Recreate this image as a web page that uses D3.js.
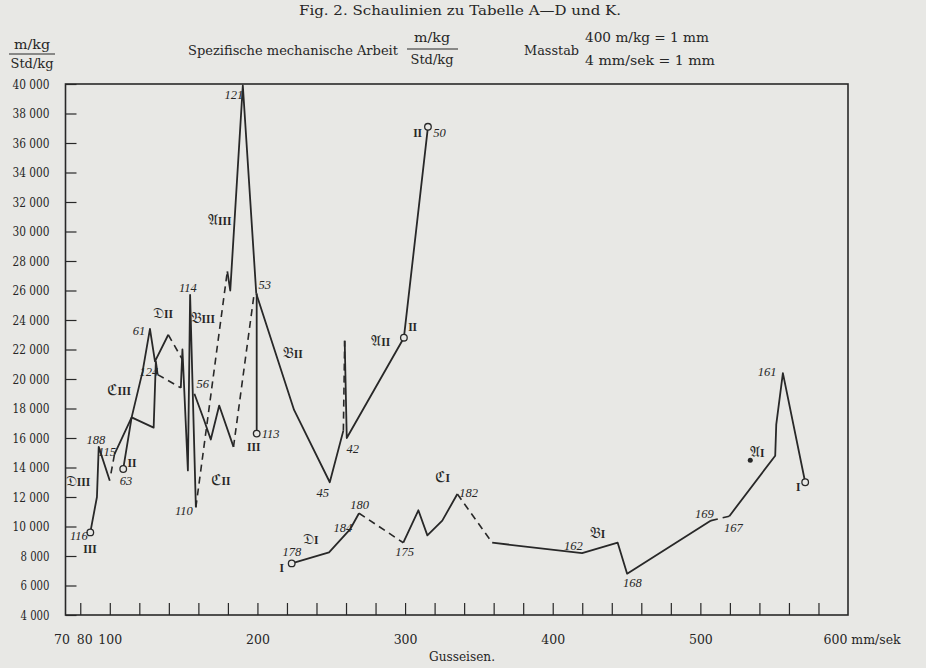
<!doctype html>
<html>
<head>
<meta charset="utf-8">
<title>Fig. 2. Schaulinien zu Tabelle A-D und K.</title>
<style>
  body { margin: 0; background: #e8e8e5; }
  svg { display: block; }
  text { font-family: "DejaVu Serif", "Liberation Serif", serif; fill: #262626; }
  .num { font-family: "Liberation Serif", serif; font-style: italic; font-size: 12.5px; }
  .rom { font-family: "Liberation Serif", serif; font-size: 11.5px; font-weight: bold; }
  .frak { font-family: "DejaVu Serif", "DejaVu Sans", serif; font-size: 15px; }
</style>
</head>
<body>
<div id="here"></div>
<script src="https://d3js.org/d3.v7.min.js"></script>
<script>
var w = 926, h = 668, ink = "#282828", bg = "#e8e8e5";

// achsen
var yTicks = [4000, 6000, 8000, 10000, 12000, 14000, 16000, 18000, 20000, 22000,
              24000, 26000, 28000, 30000, 32000, 34000, 36000, 38000, 40000];
var xTicks = [80, 100, 120, 140, 160, 180, 200, 220, 240, 260, 280, 300, 320, 340,
              360, 380, 400, 420, 440, 460, 480, 500, 520, 540, 560, 580];
var xLabels = [70, 80, 100, 200, 300, 400, 500, 600];

// schaulinien [mm/sek, m/kg / Std/kg]
var dIII  = [[86.8, 9600], [91.3, 12000], [92.5, 15400], [100, 13100]];
var cIIIa = [[100.8, 13600], [103.2, 14900]];
var cIII  = [[103.2, 14900], [114.8, 17400], [122.2, 20500], [127.2, 23400], [130.6, 21200], [139.6, 23000]];
var cIIIb = [[139.6, 23000], [149.3, 21300]];
var dII   = [[109.1, 13900], [114.8, 17400], [129.7, 16700], [131.2, 21200], [132.4, 20300]];
var dIIa  = [[132.4, 20300], [148.1, 19400]];
var dIIb  = [[148.1, 19400], [149.2, 22000], [152.9, 13800], [154.4, 25700], [158.3, 11300]];
var bIII  = [[157.3, 19000], [163.9, 17200], [168.4, 15900], [174.1, 18200], [183.8, 15400]];
var bIIIa = [[183.8, 15400], [197.8, 25800]];
var bIIIb = [[199.5, 16300], [199.5, 25800]];
var cIIa  = [[158.3, 11300], [179.6, 27300]];
var aIII  = [[179.6, 27300], [181.6, 26000], [190.1, 39900], [199.2, 25800]];
var bII   = [[199.2, 25800], [224.8, 17900], [249, 13000], [258.2, 16500]];
var bIIa  = [[258.2, 16500], [259.1, 22600]];
var aII   = [[259.1, 22600], [260.5, 16000], [299.2, 22800], [315.5, 37100]];
var dI    = [[223.2, 7500], [248.5, 8250], [262.7, 9800], [268.8, 10900]];
var cIa   = [[268.8, 10900], [298.8, 8900]];
var cI    = [[298.8, 8900], [309, 11100], [315.1, 9400], [325.2, 10400], [335.4, 12200]];
var cIb   = [[335.4, 12200], [359, 8900]];
var bI    = [[359, 8900], [419.9, 8200], [444, 8900], [450.4, 6800], [507.2, 10400]];
var bIa   = [[507.2, 10400], [519.6, 10700]];
var bIb   = [[519.6, 10700], [550.7, 14800], [551.4, 16900], [555.9, 20400], [571, 13000]];
var aI    = [[533.8, 14500]];

// anfangspunkte (kreise)
var starts = [[86.8, 9600], [109.1, 13900], [199.5, 16300], [299.2, 22800], [315.5, 37100], [223.2, 7500], [571, 13000]];

// versuchsnummern
var tests = [["116", 79.1, 9400], ["188", 90.6, 15900], ["115", 98.1, 15100], ["61", 119.7, 23300],
             ["124", 126.5, 20500], ["63", 110.9, 13100], ["114", 152.9, 26200], ["56", 163, 19700],
             ["110", 150.2, 11100], ["121", 184, 39300], ["53", 205, 26400], ["113", 209, 16300],
             ["45", 244.2, 12300], ["42", 264.5, 15300], ["50", 323.4, 36700], ["178", 223.3, 8300],
             ["184", 257.8, 9900], ["180", 269.3, 11500], ["175", 299.7, 8300], ["182", 343, 12300],
             ["162", 414, 8700], ["168", 454, 6200], ["169", 502.7, 10900], ["167", 522.3, 9900],
             ["161", 545.3, 20500]];
var romans = [["III", 86.6, 8500], ["II", 115, 14300], ["III", 197.5, 15400], ["II", 305.1, 23500],
              ["II", 308.5, 36700], ["I", 216.5, 7200], ["I", 566.3, 12700]];
var names = [["𝔇", "III", 78.5, 13100], ["ℭ", "III", 106.2, 19300], ["𝔇", "II", 136, 24500],
             ["𝔅", "III", 163, 24200], ["ℭ", "II", 175.2, 13200], ["𝔄", "III", 174.5, 30800],
             ["𝔅", "II", 223.9, 21800], ["𝔄", "II", 283.5, 22600], ["𝔇", "I", 236.1, 9200],
             ["ℭ", "I", 325.4, 13400], ["𝔅", "I", 430.3, 9600], ["𝔄", "I", 538.5, 15100]];

var solid = [dIII, cIII, dII, dIIb, bIII, bIIIb, aIII, bII, aII, dI, cI, bI, bIb];
var dashed = [cIIIa, cIIIb, dIIa, bIIIa, cIIa, bIIa, cIa, cIb, bIa];

var x = d3.scaleLinear().domain([70, 600]).range([65.5, 848]);
var y = d3.scaleLinear().domain([4000, 40000]).range([615, 84]);
var fmt = d3.formatLocale({decimal: ",", thousands: " ", grouping: [3], currency: ["", ""]}).format(",");

var svg = d3.select("#here").append("svg")
  .attr("width", w)
  .attr("height", h)
  .style("background", bg);

// kopf
function txt(px, py, s, len, anchor) {
  return svg.append("text").attr("x", px).attr("y", py)
    .attr("text-anchor", anchor || "start").attr("font-size", 12.5)
    .attr("textLength", len).attr("lengthAdjust", "spacingAndGlyphs").text(s);
}
txt(460, 15, "Fig. 2.  Schaulinien zu Tabelle A—D und K.", 322, "middle");

function frac(cx, top, bot, lineY, x1, x2) {
  txt(cx, top, "m/kg", 36, "middle");
  svg.append("line").attr("x1", x1).attr("x2", x2).attr("y1", lineY).attr("y2", lineY)
    .attr("stroke", ink).attr("stroke-width", 1);
  txt(cx, bot, "Std/kg", 43, "middle");
}
frac(32, 49, 68, 54, 9, 55);
frac(432, 42, 64, 49, 407, 458);

txt(188, 55, "Spezifische mechanische Arbeit", 210);
txt(524, 55, "Masstab", 55);
txt(585, 42, "400 m/kg = 1 mm", 124);
txt(585, 65, "4 mm/sek = 1 mm", 130);

// rahmen
svg.append("rect")
  .attr("x", x(70)).attr("y", y(40000))
  .attr("width", x(600) - x(70)).attr("height", y(4000) - y(40000))
  .attr("fill", "none").attr("stroke", ink).attr("stroke-width", 1.6);

// y achse
var ya = svg.append("g").attr("transform", "translate(" + x(70) + ",0)")
  .call(d3.axisLeft(y).tickValues(yTicks).tickSize(-11).tickPadding(16).tickFormat(fmt));
ya.select(".domain").remove();
ya.selectAll("line").attr("stroke", ink).attr("stroke-width", 1.2);
ya.selectAll("text").attr("font-size", 12.5).attr("fill", ink)
  .attr("textLength", function(d) { return d >= 10000 ? 37 : 29; })
  .attr("lengthAdjust", "spacingAndGlyphs");

// x achse
var xa = svg.append("g").attr("transform", "translate(0," + y(4000) + ")")
  .call(d3.axisBottom(x).tickValues(xTicks).tickSize(-12).tickFormat(""));
xa.select(".domain").remove();
xa.selectAll("line").attr("stroke", ink).attr("stroke-width", 1.2);

var xl = svg.append("g").attr("transform", "translate(0," + y(4000) + ")")
  .call(d3.axisBottom(x).tickValues(xLabels).tickSize(0).tickPadding(20)
    .tickFormat(function(d) { return d === 600 ? "600 mm/sek" : d; }));
xl.select(".domain").remove();
xl.selectAll("text").attr("font-size", 12.5).attr("fill", ink)
  .attr("dx", function(d) { return d === 70 ? -4 : d === 80 ? 4 : 0; })
  .filter(function(d) { return d === 600; })
  .attr("text-anchor", "start").attr("dx", -25);

txt(462, 661, "Gusseisen.", 66, "middle");

// linien
var line = d3.line().x(function(d) { return x(d[0]); }).y(function(d) { return y(d[1]); });

svg.append("g").selectAll("path").data(solid).enter().append("path")
  .attr("d", line).attr("fill", "none").attr("stroke", ink)
  .attr("stroke-width", 1.8).attr("stroke-linejoin", "round");

svg.append("g").selectAll("path").data(dashed).enter().append("path")
  .attr("d", line).attr("fill", "none").attr("stroke", ink)
  .attr("stroke-width", 1.6).attr("stroke-dasharray", "7,5");

svg.append("g").selectAll("circle").data(starts).enter().append("circle")
  .attr("cx", function(d) { return x(d[0]); })
  .attr("cy", function(d) { return y(d[1]); })
  .attr("r", 3.3).attr("fill", bg).attr("stroke", ink).attr("stroke-width", 1.3);

svg.append("g").selectAll("circle").data(aI).enter().append("circle")
  .attr("cx", function(d) { return x(d[0]); })
  .attr("cy", function(d) { return y(d[1]); })
  .attr("r", 2.5).attr("fill", ink);

// beschriftung
svg.append("g").selectAll("text").data(tests).enter().append("text")
  .attr("class", "num")
  .attr("x", function(d) { return x(d[1]); })
  .attr("y", function(d) { return y(d[2]); })
  .attr("dy", "0.35em").attr("text-anchor", "middle")
  .text(function(d) { return d[0]; });

svg.append("g").selectAll("text").data(romans).enter().append("text")
  .attr("class", "rom")
  .attr("x", function(d) { return x(d[1]); })
  .attr("y", function(d) { return y(d[2]); })
  .attr("dy", "0.35em").attr("text-anchor", "middle")
  .text(function(d) { return d[0]; });

var nm = svg.append("g").selectAll("text").data(names).enter().append("text")
  .attr("x", function(d) { return x(d[2]); })
  .attr("y", function(d) { return y(d[3]); })
  .attr("dy", "0.35em").attr("text-anchor", "middle");
nm.append("tspan").attr("class", "frak").text(function(d) { return d[0]; });
nm.append("tspan").attr("class", "rom").text(function(d) { return d[1]; });
</script>
</body>
</html>
